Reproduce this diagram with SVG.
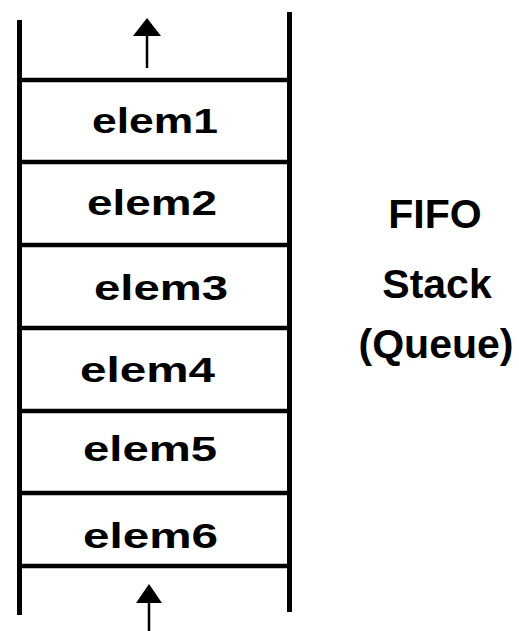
<svg xmlns="http://www.w3.org/2000/svg" width="519" height="631" viewBox="0 0 519 631">
<defs>
<style>
.rail{stroke:#000;stroke-width:5;fill:none}
.sep{stroke:#000;stroke-width:4.5;fill:none}
.arr{stroke:#000;stroke-width:2.5;fill:none}
.head{fill:#000}
.el{font-family:"Liberation Sans",Arial,sans-serif;font-weight:bold;font-size:35px;fill:#000}
.title{font-family:"Liberation Sans",Arial,sans-serif;font-weight:bold;font-size:41px;fill:#000;text-anchor:middle}
</style>
</defs>
<rect width="519" height="631" fill="#fff"/>
<g id="stack-frame">
<line class="rail" x1="19.5" y1="20" x2="19.5" y2="615"/>
<line class="rail" x1="289.5" y1="12" x2="289.5" y2="612"/>
<line class="sep" x1="19" y1="80" x2="290" y2="80"/>
<line class="sep" x1="19" y1="162" x2="290" y2="162"/>
<line class="sep" x1="19" y1="245" x2="290" y2="245"/>
<line class="sep" x1="19" y1="328" x2="290" y2="328"/>
<line class="sep" x1="19" y1="411" x2="290" y2="411"/>
<line class="sep" x1="19" y1="493" x2="290" y2="493"/>
<line class="sep" x1="19" y1="566" x2="290" y2="566"/>
</g>
<g id="elem1"><text class="el" x="92" y="133" textLength="126" lengthAdjust="spacingAndGlyphs">elem1</text></g>
<g id="elem2"><text class="el" x="87" y="215" textLength="130" lengthAdjust="spacingAndGlyphs">elem2</text></g>
<g id="elem3"><text class="el" x="94" y="300" textLength="134" lengthAdjust="spacingAndGlyphs">elem3</text></g>
<g id="elem4"><text class="el" x="80" y="382" textLength="135" lengthAdjust="spacingAndGlyphs">elem4</text></g>
<g id="elem5"><text class="el" x="83" y="461" textLength="134" lengthAdjust="spacingAndGlyphs">elem5</text></g>
<g id="elem6"><text class="el" x="83" y="548" textLength="135" lengthAdjust="spacingAndGlyphs">elem6</text></g>
<g id="connectors">
<line class="arr" x1="147" y1="68" x2="147" y2="34"/>
<polygon class="head" points="147,18 133,36 161,36"/>
<line class="arr" x1="149" y1="631" x2="149" y2="600"/>
<polygon class="head" points="149,584 136,603 162,603"/>
</g>
<g id="label">
<text class="title" x="435" y="228">FIFO</text>
<text class="title" x="437" y="298">Stack</text>
<text class="title" x="436" y="358">(Queue)</text>
</g>
</svg>
